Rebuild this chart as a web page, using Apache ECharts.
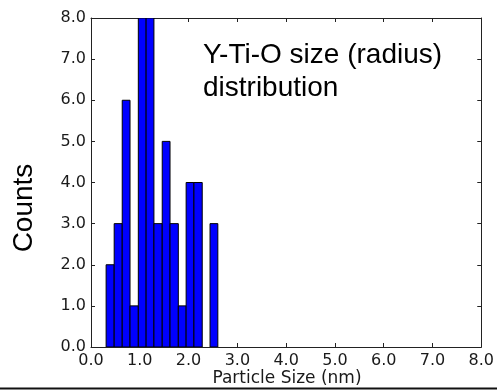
<!DOCTYPE html>
<html>
<head>
<meta charset="utf-8">
<script src="https://cdn.jsdelivr.net/npm/echarts@6/dist/echarts.min.js"></script>
<style>html,body{margin:0;padding:0;background:#fff;}#c{width:497px;height:390px;}</style>
</head>
<body>
<div id="c"></div>
<script>
var binEdges = [0.31, 0.475, 0.64, 0.80, 0.97, 1.13, 1.29, 1.46, 1.62, 1.79, 1.95, 2.11, 2.28, 2.44, 2.60];
var counts = [2, 3, 6, 1, 8, 8, 3, 5, 3, 1, 4, 4, 0, 3];
var xTicks = [0, 1, 2, 3, 4, 5, 6, 7, 8];
var yTicks = [0, 1, 2, 3, 4, 5, 6, 7, 8];
var xLabel = 'Particle Size (nm)';
var yLabel = 'Counts';
var annotation = 'Y-Ti-O size (radius)\ndistribution';

var data = [];
for (var i = 0; i < counts.length; i++) {
  data.push([binEdges[i], binEdges[i + 1], counts[i]]);
}

var chart = echarts.init(document.getElementById('c'), null, {renderer: 'canvas'});
var axisColor = '#222';
var tickFont = {fontFamily: 'DejaVu Sans', fontSize: 16, color: '#1a1a1a'};

function baseX(pos, showLabel) {
  return {
    type: 'value', position: pos, min: xTicks[0], max: xTicks[xTicks.length - 1], interval: 1,
    axisLine: {show: true, onZero: false, lineStyle: {color: axisColor, width: 1}},
    axisTick: {show: true, inside: true, length: 4, lineStyle: {color: axisColor}},
    splitLine: {show: false},
    axisLabel: Object.assign({show: showLabel, margin: 6, formatter: function (v) { return v.toFixed(1); }}, tickFont)
  };
}
function baseY(pos, showLabel) {
  return {
    type: 'value', position: pos, min: yTicks[0], max: yTicks[yTicks.length - 1], interval: 1,
    axisLine: {show: true, onZero: false, lineStyle: {color: axisColor, width: 1}},
    axisTick: {show: true, inside: true, length: 4, lineStyle: {color: axisColor}},
    splitLine: {show: false},
    axisLabel: Object.assign({show: showLabel, margin: 5, formatter: function (v) { return v.toFixed(1); }}, tickFont)
  };
}

chart.setOption({
  animation: false,
  backgroundColor: '#fff',
  grid: {left: 91, right: 14, top: 18, bottom: 43, containLabel: false},
  xAxis: [baseX('bottom', true), baseX('top', false)],
  yAxis: [baseY('left', true), baseY('right', false)],
  series: [{
    type: 'custom',
    xAxisIndex: 0, yAxisIndex: 0,
    clip: true,
    data: data,
    encode: {x: [0, 1], y: 2},
    renderItem: function (params, api) {
      var h = api.value(2);
      if (!h) return null;
      var p0 = api.coord([api.value(0), h]);
      var p1 = api.coord([api.value(1), 0]);
      return {
        type: 'rect',
        shape: {x: p0[0], y: p0[1], width: p1[0] - p0[0], height: p1[1] - p0[1]},
        style: {fill: '#0000ff', stroke: '#000', lineWidth: 1}
      };
    }
  }],
  graphic: [
    {type: 'text', left: 203, top: 39, style: {text: annotation, font: '28px "Liberation Sans"', fill: '#000', lineHeight: 33}},
    {type: 'text', x: 24, y: 208, rotation: Math.PI / 2, style: {text: yLabel, font: '28px "Liberation Sans"', fill: '#000', align: 'center', verticalAlign: 'middle'}},
    {type: 'text', x: 287, y: 379, style: {text: xLabel, font: '17px "DejaVu Sans"', fill: '#1a1a1a', align: 'center', verticalAlign: 'middle'}},
    {type: 'line', shape: {x1: 0, y1: 388.5, x2: 497, y2: 388.5}, style: {stroke: '#111', lineWidth: 2}}
  ]
});
</script>
</body>
</html>
